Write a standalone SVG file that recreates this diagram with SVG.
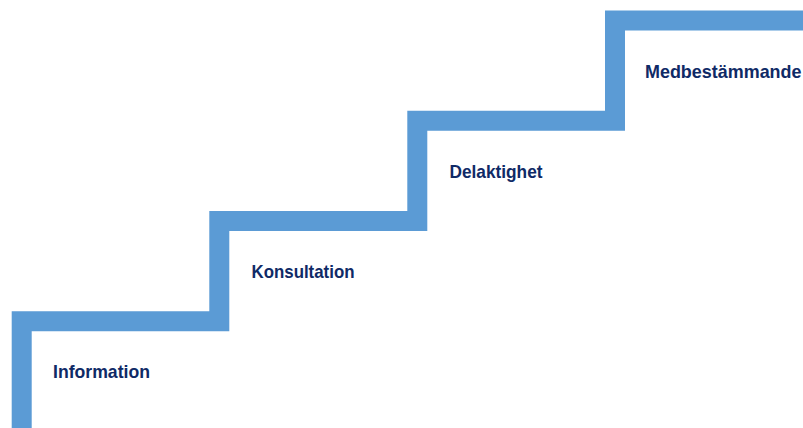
<svg xmlns="http://www.w3.org/2000/svg" width="803" height="428" viewBox="0 0 803 428">
<style>
.stair{fill:none;stroke:#5B9BD5;stroke-width:20;stroke-linejoin:miter;stroke-linecap:butt}
.lbl{font-family:"Liberation Sans",Arial,sans-serif;font-weight:bold;font-size:17.8px;fill:#0F2A66}
</style>
<rect width="803" height="428" fill="#ffffff"/>
<g id="connectors">
<path class="stair" d="M21.7,428 V321.3 H219.3 V221 H417.3 V120.8 H615 V20.5 H803"/>
</g>
<g id="step-information"><text class="lbl" x="53" y="378" textLength="97" lengthAdjust="spacingAndGlyphs">Information</text></g>
<g id="step-konsultation"><text class="lbl" x="251.5" y="278" textLength="103" lengthAdjust="spacingAndGlyphs">Konsultation</text></g>
<g id="step-delaktighet"><text class="lbl" x="449.5" y="178" textLength="93" lengthAdjust="spacingAndGlyphs">Delaktighet</text></g>
<g id="step-medbestammande"><text class="lbl" x="645" y="78" textLength="156.5" lengthAdjust="spacingAndGlyphs">Medbestämmande</text></g>
</svg>
